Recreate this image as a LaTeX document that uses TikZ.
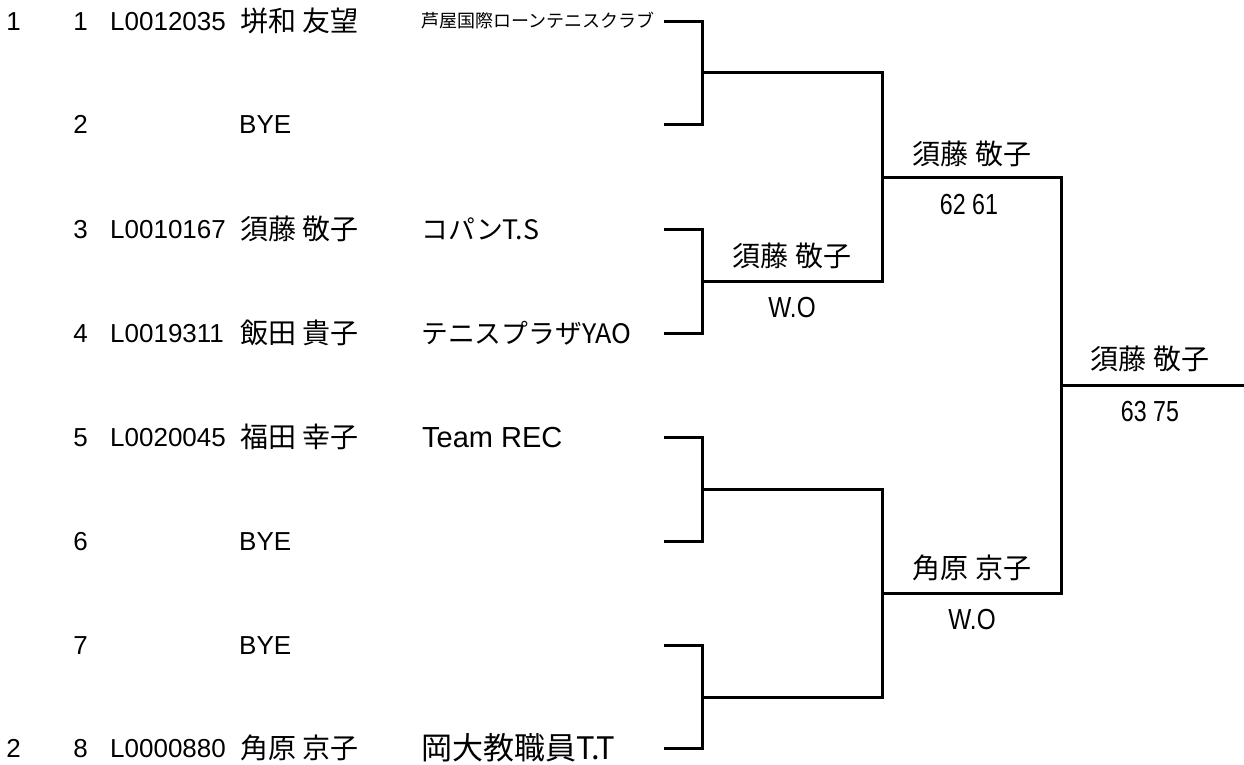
\documentclass[tikz,border=0pt]{standalone}
\usepackage{fontspec}
\setmainfont{Noto Sans CJK JP}
\newfontfamily\latinf{Liberation Sans}
\newcommand{\narrowtxt}[2]{\scalebox{#1}[1]{#2}}
\begin{document}
\begin{tikzpicture}[x=1pt,y=-1pt,
  cjk/.style={inner sep=0pt,font=\fontsize{28}{28}\selectfont},
  club/.style={inner sep=0pt,font=\fontsize{26.8}{28}\selectfont},
  clubbig/.style={inner sep=0pt,font=\fontsize{31}{31}\selectfont},
  lat/.style={inner sep=0pt,font=\latinf\fontsize{26}{26}\selectfont},
  latbig/.style={inner sep=0pt,font=\latinf\fontsize{29}{29}\selectfont},
  smalltxt/.style={inner sep=0pt,font=\fontsize{18}{18}\selectfont},
  bline/.style={line width=3pt,line join=miter,line cap=rect}]
\useasboundingbox (0,0) rectangle (1244,765);
% rows
\foreach \i/\yy in {1/22,2/125,3/229,4/333,5/437,6/541,7/645,8/748}{
  \node[lat,anchor=base east] (num\i) at (88,\yy+9) {\i};
  \coordinate (s\i) at (665,\yy);
  \coordinate (v\i) at (702,\yy);
}
\node[lat,anchor=base east] (seed1) at (21,31) {1};
\node[lat,anchor=base east] (seed2) at (21,757) {2};
% players
\node[lat,anchor=base west] (id1) at (110,31) {L0012035};
\node[cjk,anchor=base west] (nm1) at (240,32) {垪和 友望};
\node[smalltxt,anchor=base west] (cl1) at (421,28) {芦屋国際ローンテニスクラブ};
\node[lat,anchor=base west] (nm2) at (239,134) {BYE};
\node[lat,anchor=base west] (id3) at (110,238) {L0010167};
\node[cjk,anchor=base west] (nm3) at (240,239) {須藤 敬子};
\node[club,anchor=base west] (cl3) at (421,239) {コパンT.S};
\node[lat,anchor=base west] (id4) at (110,342) {L0019311};
\node[cjk,anchor=base west] (nm4) at (240,343) {飯田 貴子};
\node[club,anchor=base west] (cl4) at (421,343) {テニスプラザYAO};
\node[lat,anchor=base west] (id5) at (110,446) {L0020045};
\node[cjk,anchor=base west] (nm5) at (240,447) {福田 幸子};
\node[latbig,anchor=base west] (cl5) at (422,447) {Team REC};
\node[lat,anchor=base west] (nm6) at (239,550) {BYE};
\node[lat,anchor=base west] (nm7) at (239,654) {BYE};
\node[lat,anchor=base west] (id8) at (110,757) {L0000880};
\node[cjk,anchor=base west] (nm8) at (240,758) {角原 京子};
\node[clubbig,anchor=base west] (cl8) at (421,759) {岡大教職員T.T};
% bracket junctions
\coordinate (a1) at (702,73);  \coordinate (b1) at (882,73);
\coordinate (a2) at (702,281); \coordinate (b2) at (882,281);
\coordinate (a3) at (702,489); \coordinate (b3) at (882,489);
\coordinate (a4) at (702,697); \coordinate (b4) at (882,697);
\coordinate (c1) at (882,177); \coordinate (d1) at (1061,177);
\coordinate (c2) at (882,593); \coordinate (d2) at (1061,593);
\coordinate (e) at (1061,385); \coordinate (f) at (1244,385);
% round 1
\draw[bline] (s1) -- (v1) -- (v2) -- (s2);
\draw[bline] (s3) -- (v3) -- (v4) -- (s4);
\draw[bline] (s5) -- (v5) -- (v6) -- (s6);
\draw[bline] (s7) -- (v7) -- (v8) -- (s8);
% round 2
\draw[bline] (a1) -- (b1) -- (b2) -- (a2);
\draw[bline] (a3) -- (b3) -- (b4) -- (a4);
% round 3
\draw[bline] (c1) -- (d1) -- (d2) -- (c2);
\draw[bline] (e) -- (f);
% winner labels
\node[cjk,anchor=base] (w2) at (792,266) {須藤 敬子};
\node[latbig,anchor=base] (r2) at (792,317) {\narrowtxt{0.84}{W.O}};
\node[cjk,anchor=base] (w3) at (972,164) {須藤 敬子};
\node[latbig,anchor=base] (r3) at (969,214) {\narrowtxt{0.8}{62 61}};
\node[cjk,anchor=base] (w5) at (972,578) {角原 京子};
\node[latbig,anchor=base] (r5) at (972,629) {\narrowtxt{0.84}{W.O}};
\node[cjk,anchor=base] (wf) at (1150,369) {須藤 敬子};
\node[latbig,anchor=base] (rf) at (1150,421) {\narrowtxt{0.8}{63 75}};
\end{tikzpicture}
\end{document}
